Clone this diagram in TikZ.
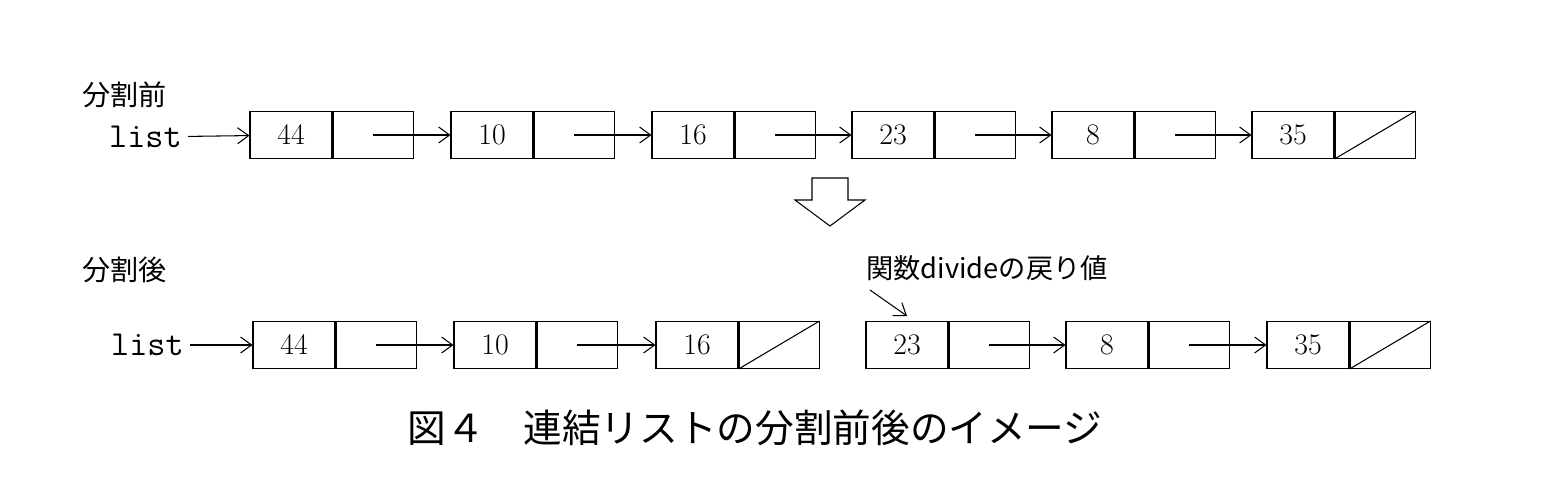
\documentclass[tikz,border=0pt]{standalone}
\usepackage{fontspec}
\newfontfamily\jp{Noto Sans CJK JP}
\usetikzlibrary{positioning,arrows.meta}
\begin{document}
\begin{tikzpicture}[x=0.02cm,y=-0.02cm,semithick,
    val/.style={draw,rectangle,minimum width=1.64cm,minimum height=0.94cm,inner sep=0pt,font=\fontsize{17}{17}\selectfont},
    ptr/.style={draw,rectangle,minimum width=1.6cm,minimum height=0.94cm,inner sep=0pt,anchor=west},
    link/.style={-{Straight Barb[length=2.2mm,width=3.2mm]},semithick},
    lbl/.style={font=\jp\fontsize{16}{16}\selectfont,anchor=west},
  ]
    \useasboundingbox (0,0) rectangle (1562,480);
    % before
    \node [lbl] (before) at (76,95) {分割前};
    \node [font=\ttfamily\fontsize{20}{20}\selectfont,anchor=east] (listA) at (188,137) {list};
    \foreach \n/\v/\x in {a1/44/291,a2/10/492,a3/16/693,a4/23/893,a5/8/1093,a6/35/1293} {
      \node [val] (\n) at (\x,135) {\v};
      \node [ptr] (\n p) at (\n.east) {};
    }
    \draw (a6p.south west) -- (a6p.north east);
    \draw [link] (listA) -- (a1);
    \foreach \a/\b in {a1/a2,a2/a3,a3/a4,a4/a5,a5/a6}
      \draw [link] (\a p.center) -- (\b.west);
    % hollow arrow
    \draw (812,178) -- (848,178) -- (848,200) -- (865,200) -- (830,226)
      -- (795,200) -- (812,200) -- cycle;
    % after
    \node [lbl] (after) at (76,270) {分割後};
    \node [font=\ttfamily\fontsize{20}{20}\selectfont,anchor=east] (listB) at (190,345) {list};
    \foreach \n/\v/\x in {b1/44/294,b2/10/495,b3/16/697,b4/23/907,b5/8/1107,b6/35/1308} {
      \node [val] (\n) at (\x,345) {\v};
      \node [ptr] (\n p) at (\n.east) {};
    }
    \draw (b3p.south west) -- (b3p.north east);
    \draw (b6p.south west) -- (b6p.north east);
    \draw [link] (listB) -- (b1);
    \foreach \a/\b in {b1/b2,b2/b3,b4/b5,b5/b6}
      \draw [link] (\a p.center) -- (\b.west);
    \node [lbl,font=\jp\fontsize{15.5}{15.5}\selectfont] (ret) at (860,268) {関数divideの戻り値};
    \coordinate (retp) at (870,290);
    \coordinate (rett) at (907,316);
    \draw [link] (retp) -- (rett);
    % caption
    \node [font=\jp\fontsize{22}{22}\selectfont] (cap) at (755,428) {図４\quad 連結リストの分割前後のイメージ};
\end{tikzpicture}
\end{document}
